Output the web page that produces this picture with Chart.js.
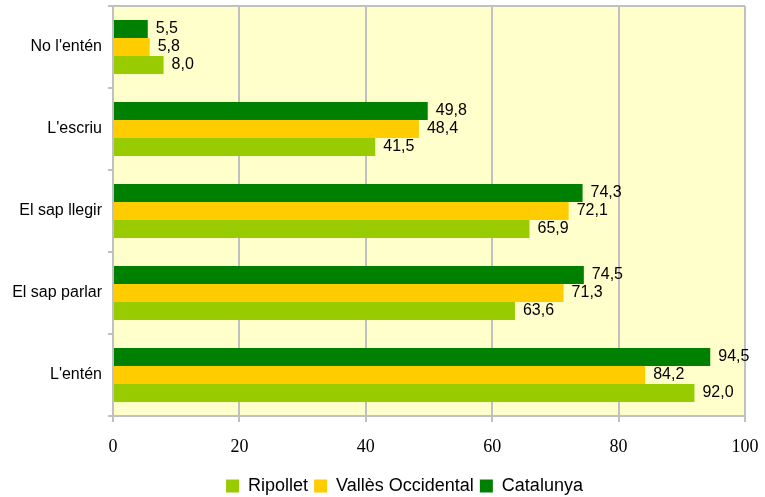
<!DOCTYPE html>
<html>
<head>
<meta charset="utf-8">
<script src="https://cdn.jsdelivr.net/npm/chart.js@4"></script>
<style>
  html, body { margin: 0; padding: 0; background: #fff; }
  #wrap { width: 765px; height: 497px; }
</style>
</head>
<body>
<div id="wrap"><canvas id="chart" width="765" height="497"></canvas></div>
<script>
// Dades del gràfic
const categories = ["No l'entén", "L'escriu", "El sap llegir", "El sap parlar", "L'entén"];
const catalunya = [5.5, 49.8, 74.3, 74.5, 94.5];
const vallesOccidental = [5.8, 48.4, 72.1, 71.3, 84.2];
const ripollet = [8.0, 41.5, 65.9, 63.6, 92.0];
const xTicks = [0, 20, 40, 60, 80, 100];

// Fons groc de l'àrea del gràfic
const plotBackground = {
    id: 'plotBackground',
    afterLayout(chart) {
        // la llegenda està una mica desplaçada a la dreta
        if (chart.legend) {
            chart.legend.left += 32;
            chart.legend.right += 32;
        }
    },
    beforeDraw(chart) {
        const { ctx, chartArea: a } = chart;
        ctx.save();
        ctx.fillStyle = '#FFFFCC';
        ctx.fillRect(a.left, a.top, a.right - a.left, a.bottom - a.top);
        ctx.restore();
    },
    afterDraw(chart) {
        const { ctx, chartArea: a } = chart;
        ctx.save();
        ctx.strokeStyle = '#C0C0C0';
        ctx.lineWidth = 2;
        ctx.beginPath();
        ctx.moveTo(a.left, a.top);
        ctx.lineTo(a.right, a.top);
        ctx.stroke();
        ctx.restore();
    }
};

// Etiquetes de valor al final de cada barra
const valueLabels = {
    id: 'valueLabels',
    afterDatasetsDraw(chart) {
        const ctx = chart.ctx;
        ctx.save();
        ctx.font = '16px "Liberation Sans", Arial, sans-serif';
        ctx.fillStyle = '#000';
        ctx.textBaseline = 'middle';
        ctx.textAlign = 'left';
        chart.data.datasets.forEach((ds, i) => {
            chart.getDatasetMeta(i).data.forEach((bar, j) => {
                const txt = ds.data[j].toFixed(1).replace('.', ',');
                ctx.fillText(txt, bar.x + 8, bar.y);
            });
        });
        ctx.restore();
    }
};

const ctx = document.getElementById('chart').getContext('2d');
new Chart(ctx, {
    type: 'bar',
    data: {
        labels: categories,
        datasets: [{
            label: 'Catalunya',
            data: catalunya,
            backgroundColor: '#008000'
        }, {
            label: 'Vallès Occidental',
            data: vallesOccidental,
            backgroundColor: '#FFCC00'
        }, {
            label: 'Ripollet',
            data: ripollet,
            backgroundColor: '#99CC00'
        }]
    },
    options: {
        indexAxis: 'y',
        responsive: false,
        animation: false,
        categoryPercentage: 0.66,
        barPercentage: 1,
        layout: { padding: { top: 6, right: 20, bottom: -8, left: 0 } },
        scales: {
            x: {
                min: 0,
                max: 100,
                afterBuildTicks(axis) {
                    axis.ticks = xTicks.map(v => ({ value: v }));
                },
                afterFit(axis) {
                    axis.height = 55;
                    axis.paddingLeft = 0;
                    axis.paddingRight = 0;
                },
                grid: {
                    color: '#C0C0C0',
                    lineWidth: 2,
                    tickLength: 6
                },
                border: { color: '#C0C0C0', width: 2 },
                ticks: {
                    padding: 14,
                    color: '#000',
                    font: { family: '"Liberation Serif", "Times New Roman", serif', size: 18 }
                }
            },
            y: {
                afterFit(axis) {
                    axis.width = 113;
                    axis.paddingTop = 0;
                    axis.paddingBottom = 0;
                },
                grid: {
                    offset: true,
                    drawOnChartArea: false,
                    color: '#C0C0C0',
                    lineWidth: 2,
                    tickLength: 5
                },
                border: { color: '#C0C0C0', width: 2 },
                ticks: {
                    padding: 6,
                    color: '#000',
                    font: { family: '"Liberation Sans", Arial, sans-serif', size: 16 }
                }
            }
        },
        plugins: {
            legend: {
                position: 'bottom',
                reverse: true,
                labels: {
                    boxWidth: 13,
                    boxHeight: 13,
                    padding: 6,
                    color: '#000',
                    font: { family: '"Liberation Sans", Arial, sans-serif', size: 18 }
                }
            },
            tooltip: { enabled: false }
        }
    },
    plugins: [plotBackground, valueLabels]
});
</script>
</body>
</html>
